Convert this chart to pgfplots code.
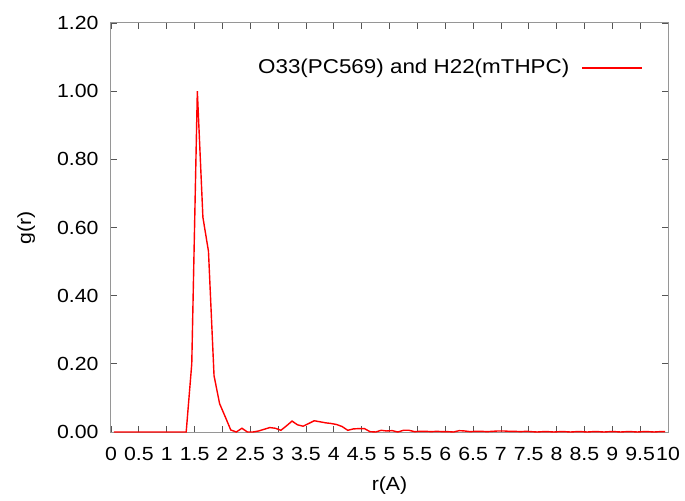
\documentclass[border=0pt]{standalone}
\usepackage{pgfplots}
\pgfplotsset{compat=1.18}
\usepackage{fontspec}
\setmainfont{Liberation Sans}[FakeStretch=1.12]
\definecolor{framegray}{RGB}{150,150,150}
\definecolor{tickgray}{RGB}{85,85,85}
\pgfplotstableread{
r g
0.05 0
0.15 0
0.25 0
0.35 0
0.45 0
0.55 0
0.65 0
0.75 0
0.85 0
0.95 0
1.05 0
1.15 0
1.25 0
1.35 0
1.45 0.20
1.55 1.00
1.65 0.63
1.75 0.53
1.85 0.165
1.95 0.083
2.05 0.045
2.15 0.006
2.25 0
2.35 0.011
2.45 0
2.55 0
2.65 0.003
2.75 0.008
2.85 0.013
2.95 0.011
3.05 0.005
3.15 0.018
3.25 0.032
3.35 0.021
3.45 0.017
3.55 0.025
3.65 0.033
3.75 0.030
3.85 0.027
3.95 0.025
4.05 0.022
4.15 0.016
4.25 0.005
4.35 0.009
4.45 0.010
4.55 0.010
4.65 0.001
4.75 0
4.85 0.005
4.95 0.003
5.05 0.004
5.15 0
5.25 0.005
5.35 0.005
5.45 0.001
5.55 0.002
5.65 0.002
5.75 0.001
5.85 0.002
5.95 0.001
6.05 0.001
6.15 0
6.25 0.004
6.35 0.003
6.45 0.001
6.55 0.002
6.65 0.002
6.75 0.001
6.85 0.002
6.95 0.003
7.05 0.003
7.15 0.002
7.25 0.002
7.35 0.001
7.45 0.002
7.55 0.001
7.65 0
7.75 0.001
7.85 0.001
7.95 0
8.05 0.001
8.15 0.001
8.25 0
8.35 0.001
8.45 0.001
8.55 0
8.65 0.001
8.75 0.001
8.85 0
8.95 0.001
9.05 0.001
9.15 0
9.25 0.001
9.35 0.001
9.45 0
9.55 0.001
9.65 0.001
9.75 0
9.85 0.001
9.95 0.001
}\gdata
\begin{document}
\fontsize{19bp}{23bp}\selectfont
\begin{tikzpicture}
\path[use as bounding box] (-111bp,-69bp) rectangle (574bp,432bp);
\begin{axis}[
  at={(0,0)}, anchor=south west,
  width=557bp, height=409bp, scale only axis,
  xmin=0, xmax=10, ymin=0, ymax=1.2,
  xtick={0,0.5,1,1.5,2,2.5,3,3.5,4,4.5,5,5.5,6,6.5,7,7.5,8,8.5,9,9.5,10},
  xticklabels={0,0.5,1,1.5,2,2.5,3,3.5,4,4.5,5,5.5,6,6.5,7,7.5,8,8.5,9,9.5,10},
  ytick={0,0.2,0.4,0.6,0.8,1.0,1.2},
  yticklabels={0.00,0.20,0.40,0.60,0.80,1.00,1.20},
  tick align=inside,
  major tick length=6bp,
  tick style={tickgray, line width=0.8bp},
  axis line style={framegray, line width=1bp},
  every tick label/.append style={font=\fontsize{19bp}{23bp}\selectfont},
  xticklabel style={yshift=-9bp, inner xsep=0pt},
  yticklabel style={xshift=-6bp},
  xlabel={r(A)}, ylabel={g(r)},
  label style={font=\fontsize{19bp}{23bp}\selectfont},
  xlabel style={yshift=-3bp},
  ylabel style={yshift=9bp},
  legend plot pos=right,
  legend style={draw=none, fill=none, at={(0.955,0.89)}, anchor=east,
    inner sep=0pt, column sep=12bp, nodes={inner sep=0pt},
    font=\fontsize{20bp}{24bp}\selectfont},
  legend image code/.code={\draw[#1] (0bp,0bp) -- (60bp,0bp);},
]
\addplot[red, line width=1.4bp] table[x=r, y=g] {\gdata};
\addlegendentry{O33(PC569) and H22(mTHPC)}
\end{axis}
\end{tikzpicture}
\end{document}
